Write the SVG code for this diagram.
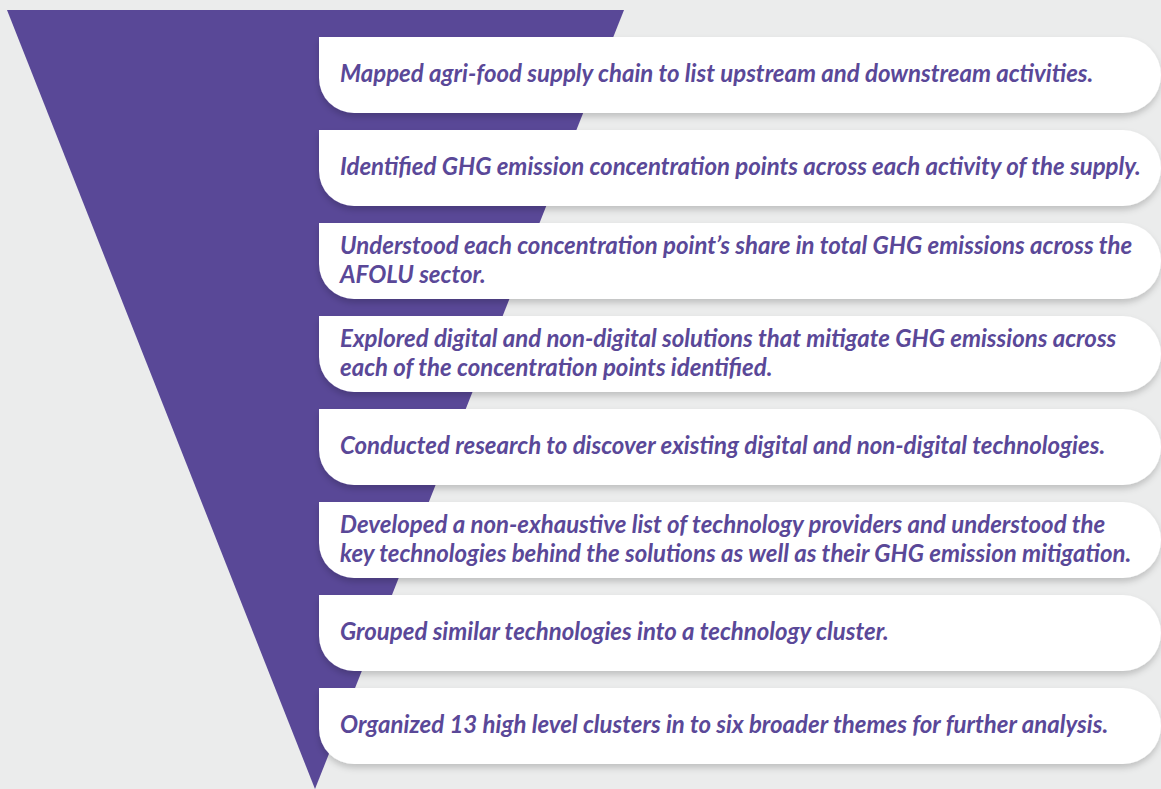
<svg xmlns="http://www.w3.org/2000/svg" width="1161" height="789" viewBox="0 0 1161 789">
<defs>
<filter id="sh" x="-5%" y="-20%" width="110%" height="160%">
<feDropShadow dx="0" dy="4" stdDeviation="3" flood-color="#000" flood-opacity="0.18"/>
</filter>
</defs>
<style>
.box{fill:#ffffff;filter:url(#sh)}
.t{font-family:Lato,"Open Sans",sans-serif;font-style:italic;font-weight:700;font-size:24px;fill:#5a4898}
</style>
<rect width="1161" height="789" fill="#ebecec"/>
<polygon id="funnel" points="7,10 624,10 315,789" fill="#594897"/>
<g id="step1"><path class="box" d="M319,37 H1123 A38,38 0 0 1 1123,113 H354 A35,35 0 0 1 319,78 Z"/><text class="t" x="340" y="82">Mapped agri-food supply chain to list upstream and downstream activities.</text></g>
<g id="step2"><path class="box" d="M319,130 H1123 A38,38 0 0 1 1123,206 H354 A35,35 0 0 1 319,171 Z"/><text class="t" x="340" y="175">Identified GHG emission concentration points across each activity of the supply.</text></g>
<g id="step3"><path class="box" d="M319,223 H1123 A38,38 0 0 1 1123,299 H354 A35,35 0 0 1 319,264 Z"/><text class="t" x="340" y="254">Understood each concentration point’s share in total GHG emissions across the</text><text class="t" x="340" y="283">AFOLU sector.</text></g>
<g id="step4"><path class="box" d="M319,316 H1123 A38,38 0 0 1 1123,392 H354 A35,35 0 0 1 319,357 Z"/><text class="t" x="340" y="347">Explored digital and non-digital solutions that mitigate GHG emissions across</text><text class="t" x="340" y="376">each of the concentration points identified.</text></g>
<g id="step5"><path class="box" d="M319,409 H1123 A38,38 0 0 1 1123,485 H354 A35,35 0 0 1 319,450 Z"/><text class="t" x="340" y="454">Conducted research to discover existing digital and non-digital technologies.</text></g>
<g id="step6"><path class="box" d="M319,502 H1123 A38,38 0 0 1 1123,578 H354 A35,35 0 0 1 319,543 Z"/><text class="t" x="340" y="533">Developed a non-exhaustive list of technology providers and understood the</text><text class="t" x="340" y="562">key technologies behind the solutions as well as their GHG emission mitigation.</text></g>
<g id="step7"><path class="box" d="M319,595 H1123 A38,38 0 0 1 1123,671 H354 A35,35 0 0 1 319,636 Z"/><text class="t" x="340" y="640">Grouped similar technologies into a technology cluster.</text></g>
<g id="step8"><path class="box" d="M319,688 H1123 A38,38 0 0 1 1123,764 H354 A35,35 0 0 1 319,729 Z"/><text class="t" x="340" y="733">Organized 13 high level clusters in to six broader themes for further analysis.</text></g>
</svg>
